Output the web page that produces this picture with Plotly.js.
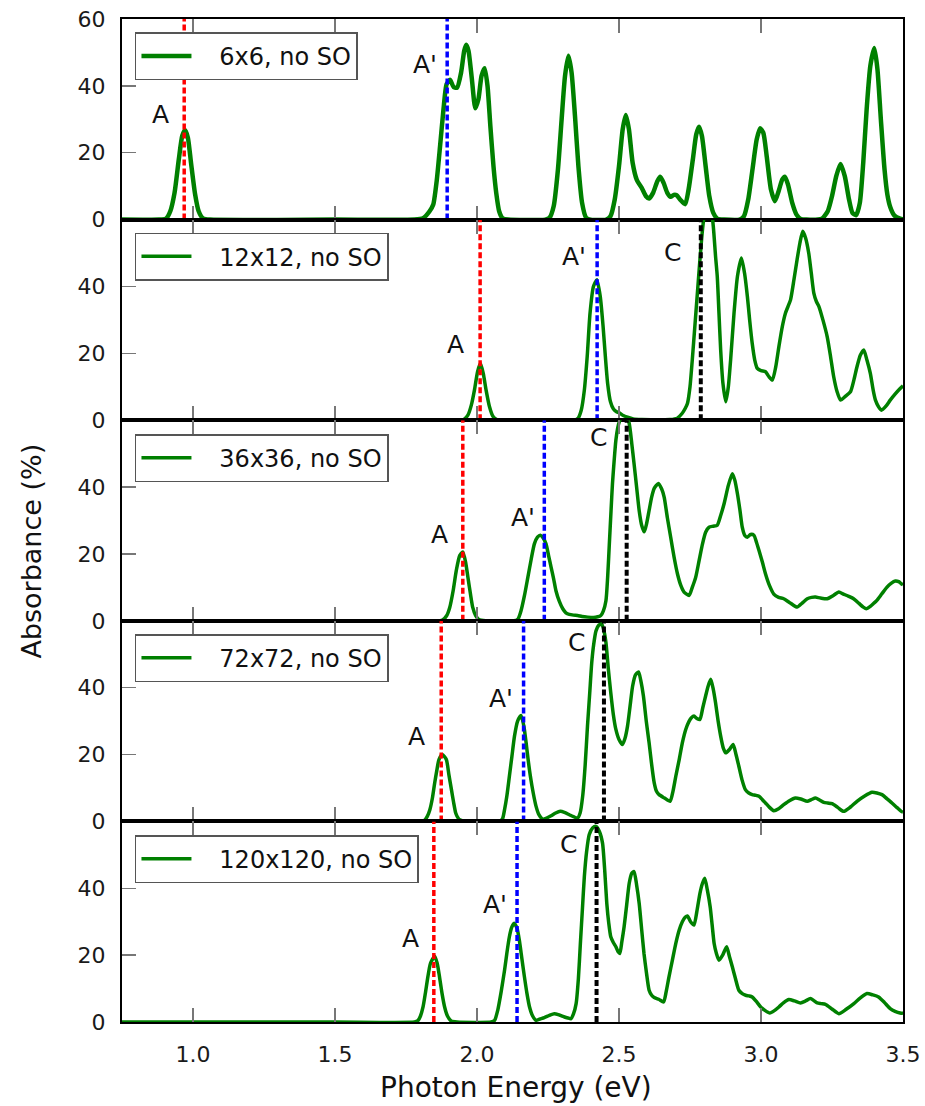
<!DOCTYPE html>
<html>
<head>
<meta charset="utf-8">
<script src="https://cdn.plot.ly/plotly-3.0.1.min.js"></script>
<style>html,body{margin:0;padding:0;background:#fff;}#chart{width:925px;height:1106px;}</style>
</head>
<body>
<div id="chart"></div>
<script>
// ---------- data ----------
const seriesNames = ['6x6, no SO', '12x12, no SO', '36x36, no SO', '72x72, no SO', '120x120, no SO'];

const energy1 = [0.75,0.88,0.905,0.92,0.935,0.95,0.962,0.972,0.982,0.993,1.007,1.02,1.035,1.06,1.5,1.78,1.81,1.833,1.846,1.858,1.870,1.882,1.893,1.905,1.918,1.930,1.944,1.955,1.962,1.970,1.982,1.994,2.005,2.016,2.027,2.037,2.047,2.058,2.068,2.078,2.090,2.11,2.24,2.255,2.270,2.285,2.298,2.310,2.322,2.333,2.345,2.357,2.370,2.384,2.40,2.455,2.470,2.485,2.500,2.513,2.524,2.535,2.548,2.563,2.580,2.595,2.606,2.620,2.635,2.645,2.657,2.670,2.682,2.693,2.703,2.715,2.733,2.745,2.760,2.772,2.782,2.792,2.805,2.818,2.832,2.846,2.87,2.925,2.940,2.955,2.970,2.985,2.997,3.008,3.020,3.035,3.049,3.062,3.075,3.084,3.095,3.110,3.125,3.140,3.16,3.20,3.215,3.235,3.250,3.265,3.280,3.295,3.310,3.322,3.335,3.348,3.360,3.372,3.385,3.399,3.410,3.422,3.435,3.445,3.455,3.470,3.49,3.5];
const absorb1 = [0,0,0.3,2.5,8,18,25,26.8,24.5,17,7.8,2.5,0.4,0,0,0,0.4,2.5,4.5,11.5,22,33,40.5,41.8,39.6,39.5,44,50.5,52.3,50.5,42,33.3,36,43,45.3,40,28,16,7.8,2.5,0.4,0,0,0.5,4,15,30,43,49,44,31,16,5,0.6,0,0,1,6,16,27,31.3,27,17,11.8,9.5,7,6.3,8,11.5,12.8,11,8,6.8,7.4,7.3,6,4.6,9,18,25.5,27.8,25,16,7,2,0.3,0,0,1,6,15,24,27.3,26,19,9,5.5,8.5,12,12.8,10.5,5,1.5,0.2,0,0,0.3,2.5,7,13,16.6,13,6,2,1.3,5,17,33,46,51.3,45,30,15,7.5,3.8,1.2,0.3,0.1];

const energy2 = [0.75,1.6,1.94,1.955,1.968,1.980,1.991,2.002,2.012,2.022,2.032,2.044,2.056,2.07,2.10,2.34,2.355,2.367,2.378,2.388,2.398,2.410,2.422,2.434,2.444,2.452,2.460,2.470,2.480,2.490,2.501,2.515,2.530,2.55,2.58,2.68,2.705,2.722,2.733,2.741,2.750,2.758,2.767,2.776,2.785,2.794,2.803,2.812,2.822,2.832,2.840,2.846,2.852,2.858,2.866,2.876,2.885,2.893,2.905,2.917,2.931,2.942,2.952,2.960,2.969,2.978,2.987,3.000,3.016,3.028,3.040,3.052,3.063,3.075,3.086,3.095,3.104,3.116,3.127,3.137,3.147,3.157,3.168,3.177,3.186,3.195,3.204,3.218,3.233,3.245,3.256,3.268,3.280,3.298,3.315,3.327,3.338,3.350,3.362,3.373,3.385,3.395,3.403,3.414,3.424,3.440,3.455,3.472,3.49,3.5];
const absorb2 = [0,0,0,0.3,1.5,4.5,9,14.5,17,14,9,4,1.2,0.2,0,0,0.5,3,9,19,32,40,42,37,28,19,11,5.5,3.4,2.6,2.2,1.4,0.9,0.4,0.2,0.2,0.6,2,3.5,5,10,18,28,38,48,57,63,66,65,58,49,43,32,21,11,5.5,10,18,32,43,48.5,44,37,30,23,18,15.5,14.8,14.5,13,12,16,22,28,32,34,36,42,48,53,56.5,54.5,50,44,38,35.5,34,30,25,19,13,8.5,6,7.2,8.5,12,16,19.5,21,18,14,9,6,4,3,4.2,6,7.8,9.5,10.3];

const energy3 = [0.75,1.6,1.87,1.880,1.893,1.904,1.916,1.927,1.939,1.950,1.960,1.968,1.977,1.985,1.995,2.005,2.03,2.13,2.144,2.155,2.167,2.179,2.191,2.202,2.213,2.223,2.233,2.243,2.252,2.261,2.270,2.278,2.290,2.302,2.313,2.325,2.340,2.354,2.370,2.390,2.410,2.425,2.436,2.445,2.454,2.460,2.466,2.472,2.477,2.483,2.489,2.495,2.501,2.510,2.518,2.527,2.536,2.545,2.553,2.562,2.571,2.580,2.589,2.597,2.606,2.615,2.624,2.639,2.650,2.659,2.670,2.682,2.694,2.706,2.718,2.729,2.747,2.758,2.770,2.782,2.794,2.805,2.817,2.832,2.846,2.858,2.870,2.885,2.899,2.908,2.917,2.926,2.934,2.943,2.952,2.963,2.975,2.984,2.993,3.005,3.016,3.030,3.045,3.062,3.080,3.100,3.127,3.145,3.163,3.178,3.192,3.210,3.233,3.255,3.274,3.290,3.309,3.326,3.345,3.360,3.371,3.385,3.398,3.408,3.425,3.443,3.458,3.473,3.485,3.494,3.5];
const absorb3 = [0,0,0,0.3,1.5,4,9,15,19.5,20.6,17.5,13,8,4,1.6,0.5,0,0,0.5,3,7.5,13,18.5,23,25,25.6,24.8,23,19.5,16,12.5,9,5.8,3.6,2.4,1.9,1.7,1.6,1.3,1.1,1.0,1.2,1.6,3,6,13,23,33,41,48,54,57.5,59.5,61,61.5,61,59,53,47,40,33,28.5,26.6,29,33,37,39.6,41.1,39.5,37,31,25,19,14,10.5,8.6,7.6,10,13,18,23,26.5,28,28.3,28.6,31.5,35,40.5,44,42,38,33,28,25.5,25,25.8,25.6,23.5,21,17.5,14,10.5,8,7,6.6,5.5,4.1,5.3,6.6,7,7.1,6.8,6.6,7.6,8.6,8,7.3,6.6,5.2,4.1,3.6,4.3,5.3,6.1,8,10,11.2,11.9,11.7,11.1,10.8];

const energy4 = [0.75,1.5,1.80,1.816,1.825,1.834,1.843,1.851,1.859,1.866,1.878,1.892,1.901,1.910,1.918,1.925,1.932,1.939,1.96,2.08,2.090,2.097,2.105,2.114,2.123,2.132,2.143,2.155,2.165,2.173,2.180,2.188,2.198,2.208,2.218,2.231,2.245,2.261,2.277,2.293,2.310,2.325,2.340,2.354,2.363,2.372,2.381,2.389,2.397,2.404,2.411,2.419,2.429,2.439,2.447,2.454,2.462,2.471,2.480,2.489,2.500,2.512,2.521,2.530,2.539,2.548,2.558,2.569,2.577,2.586,2.596,2.606,2.615,2.624,2.632,2.641,2.660,2.680,2.690,2.700,2.712,2.723,2.735,2.747,2.755,2.764,2.774,2.785,2.795,2.805,2.814,2.823,2.832,2.840,2.849,2.858,2.867,2.876,2.889,2.902,2.912,2.922,2.933,2.945,2.957,2.969,2.981,2.993,3.005,3.016,3.030,3.045,3.062,3.080,3.100,3.121,3.140,3.163,3.177,3.192,3.206,3.221,3.235,3.250,3.270,3.291,3.315,3.338,3.365,3.391,3.408,3.426,3.443,3.461,3.478,3.494,3.5];
const absorb4 = [0,0,0,0.4,1.5,3.5,7,11.5,15.5,18.5,20,18.5,14,9.5,5.5,2.5,1.2,0.5,0,0,0.8,3.5,7.5,13.5,19.5,25.5,30,31.7,28.5,23.5,18.5,13.5,8.5,4.5,2,0.7,1,1.7,2.5,3,2.6,2,1.4,1,2.5,7.5,17,28.5,38.5,47.5,53,57,58.7,59,57,53.5,46,38.5,32,27.5,24.5,23,24.8,28.5,34.5,40.5,43.8,44.7,42,37.5,30,23.5,17,11.5,9,8,7,6,9,13.5,18.5,23.5,27.5,30,31,31.5,30.8,30.5,34,37.5,40.5,42.5,39.5,35.5,30,25.5,22,20.5,21.5,23,20,16.5,12.5,9.5,8.5,8,7.8,7.5,6.5,5.5,4.2,3.2,3.8,5,6.2,7,6.7,6,6.5,7,6.4,5.7,5.5,5.3,4.2,3,4.3,6,7.6,8.7,8.5,8,6.8,5.5,4.2,3,2.8];

const energy5 = [0.75,1.5,1.78,1.792,1.801,1.810,1.818,1.827,1.836,1.851,1.860,1.868,1.877,1.886,1.896,1.909,1.93,2.05,2.062,2.073,2.085,2.097,2.105,2.114,2.123,2.132,2.141,2.149,2.158,2.167,2.176,2.185,2.196,2.208,2.222,2.237,2.255,2.272,2.290,2.308,2.320,2.331,2.340,2.349,2.357,2.364,2.371,2.378,2.386,2.395,2.407,2.419,2.431,2.442,2.450,2.457,2.464,2.471,2.480,2.489,2.497,2.503,2.510,2.518,2.527,2.536,2.545,2.553,2.562,2.571,2.580,2.588,2.597,2.606,2.615,2.624,2.640,2.657,2.666,2.676,2.688,2.700,2.712,2.723,2.733,2.741,2.752,2.764,2.775,2.785,2.794,2.802,2.811,2.821,2.828,2.835,2.843,2.852,2.865,2.879,2.889,2.899,2.910,2.922,2.934,2.946,2.958,2.969,2.985,2.999,3.015,3.031,3.047,3.063,3.080,3.098,3.118,3.139,3.157,3.174,3.186,3.198,3.212,3.227,3.250,3.274,3.300,3.327,3.350,3.373,3.394,3.414,3.435,3.455,3.472,3.490,3.5];
const absorb5 = [0,0,0,0.4,1.8,4.5,8.5,13.5,17.5,19.7,17.5,13.5,8.5,4.5,1.8,0.3,0,0,0.5,3.5,9,15.5,20.5,25.5,28.5,29.5,28,24.5,19,13.5,8.5,4.5,1.8,0.5,0.9,1.3,2,2.5,2.1,1.5,1.2,1,2.5,5.5,13,23.5,33.5,43.5,51,56,58,58.5,57,53.5,45,35.5,29.5,25.5,23.8,22.5,21,20.5,24,28.5,35,41.5,44.5,45,41,35.5,27.5,20.5,14.5,9.5,8,7.3,6.8,6,9,13.5,18.5,23.5,27.5,30,31.3,31.7,30,29,33.5,38.5,41.5,43,39.5,34.5,29,23.5,20.5,18.5,20,22.5,19.5,16.5,13,9.5,8.5,8,7.8,7.5,6,4.5,3.4,2.7,3.4,4.5,5.8,6.7,6.3,5.7,6.3,7,6.4,5.7,5.5,5.3,3.9,2.5,3.8,5.5,7.2,8.5,8.1,7.5,5.8,4,3.2,2.7,2.6];

// exciton marker energies (eV) per panel; null = none
const excitonA  = [0.969, 2.011, 1.950, 1.874, 1.848];
const excitonA2 = [1.895, 2.423, 2.237, 2.164, 2.141];
const excitonC  = [null, 2.788, 2.527, 2.447, 2.421];

// label positions [x, y] per panel
const labelA  = [[0.885, 31.3], [1.925, 22.6], [1.868, 25.7], [1.787, 25.5], [1.765, 25.0]];
const labelA2 = [[1.816, 46.3], [2.343, 49.1], [2.161, 31.0], [2.085, 36.7], [2.064, 35.0]];
const labelC  = [null, [2.688, 50.2], [2.427, 54.7], [2.349, 53.5], [2.323, 53.0]];

const xTickVals = [1.0, 1.5, 2.0, 2.5, 3.0, 3.5];
const xTickText = ['1.0', '1.5', '2.0', '2.5', '3.0', '3.5'];

// ---------- build ----------
const energies = [energy1, energy2, energy3, energy4, energy5];
const absorbs = [absorb1, absorb2, absorb3, absorb4, absorb5];
const lineWidths = [4.5, 3.5, 3.5, 3.5, 3.5];
const FONT = 'DejaVu Sans, Liberation Sans, Arial, sans-serif';
const GREEN = '#008000';
const NB = '\u00a0';

const traces = [];
const annotations = [];
const layout = {
  width: 925, height: 1106,
  margin: {l: 122, r: 22, t: 19, b: 84, pad: 0},
  paper_bgcolor: '#fff', plot_bgcolor: '#fff',
  font: {family: FONT, size: 22, color: '#1a1a1a'},
  showlegend: true,
};

const legendTops = [0.9867, 0.787, 0.5862, 0.3868, 0.1864];

for (let i = 0; i < 5; i++) {
  const n = i + 1;
  const xa = n === 1 ? 'x' : 'x' + n;
  const ya = n === 1 ? 'y' : 'y' + n;
  const xk = n === 1 ? 'xaxis' : 'xaxis' + n;
  const yk = n === 1 ? 'yaxis' : 'yaxis' + n;
  const lk = n === 1 ? 'legend' : 'legend' + n;

  traces.push({
    x: energies[i], y: absorbs[i], xaxis: xa, yaxis: ya,
    type: 'scatter', mode: 'lines', name: NB + NB + NB + seriesNames[i],
    line: {color: GREEN, width: lineWidths[i], shape: 'spline', smoothing: 0.6},
    legend: lk, hoverinfo: 'skip'
  });

  const markers = [[excitonA[i], '#ff0000', 3.5], [excitonA2[i], '#0000ff', 3.5], [excitonC[i], '#000000', 4]];
  markers.forEach(([xv, col, w]) => {
    if (xv === null) return;
    traces.push({
      x: [xv, xv], y: [0, 60], xaxis: xa, yaxis: ya,
      type: 'scatter', mode: 'lines', showlegend: false, hoverinfo: 'skip',
      line: {color: col, width: w, dash: '6px,3px'}
    });
  });

  const labs = [[labelA[i], 'A'], [labelA2[i], "A'"], [labelC[i], 'C']];
  labs.forEach(([pos, txt]) => {
    if (!pos) return;
    annotations.push({
      x: pos[0], y: pos[1], xref: xa, yref: ya, text: txt, showarrow: false,
      xanchor: 'center', yanchor: 'middle',
      font: {family: FONT, size: 25, color: '#111'}
    });
  });

  layout[xk] = {
    domain: [0, 1], anchor: ya, range: [0.75, 3.5],
    tickvals: xTickVals, ticktext: xTickText, showticklabels: n === 5,
    ticks: 'inside', ticklen: 14, tickwidth: 1.5, tickcolor: '#777',
    showline: true, linecolor: '#000', linewidth: 2, mirror: 'ticks',
    showgrid: false, zeroline: false, ticklabelstandoff: 12,
    tickfont: {family: FONT, size: 22, color: '#1a1a1a'}, fixedrange: true
  };
  layout[yk] = {
    domain: [(4 - i) / 5, (5 - i) / 5], anchor: xa, range: [0, 60],
    tickvals: n === 1 ? [0, 20, 40, 60] : [0, 20, 40],
    ticks: 'inside', ticklen: 14, tickwidth: 1.5, tickcolor: '#777',
    showline: true, linecolor: '#000', linewidth: 2, mirror: true,
    showgrid: false, zeroline: false, ticklabelstandoff: 10,
    tickfont: {family: FONT, size: 22, color: '#1a1a1a'}, fixedrange: true
  };
  layout[lk] = {
    x: 0.0166, y: legendTops[i], xanchor: 'left', yanchor: 'top',
    bgcolor: '#fff', bordercolor: '#555', borderwidth: 1.5,
    font: {family: FONT, size: 24, color: '#111'},
    itemwidth: 50
  };
}

annotations.push({
  x: 0.504, y: -0.0658, xref: 'paper', yref: 'paper', showarrow: false,
  text: 'Photon Energy (eV)', xanchor: 'center', yanchor: 'middle',
  font: {family: FONT, size: 28, color: '#111'}
});
annotations.push({
  x: -0.1152, y: 0.469, xref: 'paper', yref: 'paper', showarrow: false,
  text: 'Absorbance (%)', textangle: -90, xanchor: 'center', yanchor: 'middle',
  font: {family: FONT, size: 27, color: '#111'}
});
layout.annotations = annotations;

Plotly.newPlot('chart', traces, layout, {staticPlot: true, displayModeBar: false});
</script>
</body>
</html>
